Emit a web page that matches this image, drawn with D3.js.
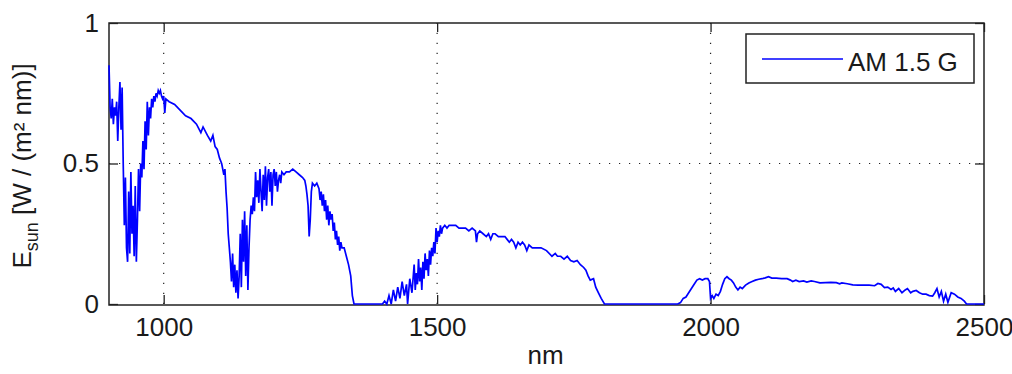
<!DOCTYPE html>
<html lang="en">
<head>
    <meta charset="utf-8">
    <title>AM 1.5 G spectrum</title>
    <style>
        body { margin: 0; background: #fff; }
        svg text { font-family: "Liberation Sans", Arial, Helvetica, sans-serif; fill: #1a1a1a; }
    </style>
</head>
<body>
    <svg class="chart"></svg>

    <script src="https://d3js.org/d3.v7.min.js"></script>
    <script>
        // Wavelength (nm) and irradiance (W / (m^2 nm))
        var wavelength = [
            900, 902, 904, 906, 908, 910, 912, 914, 916, 918, 920, 922, 924, 926, 928, 930, 932, 934, 936, 938,
            940, 942, 944, 946, 948, 950, 952, 954, 956, 958, 960, 962, 964, 966, 968, 970, 972, 974, 976, 978,
            980, 982, 984, 986, 988, 990, 992, 994, 996, 998, 1000, 1002, 1004, 1010, 1020, 1030, 1040, 1050, 1060, 1068,
            1072, 1080, 1086, 1090, 1094, 1098, 1102, 1106, 1110, 1112, 1114, 1116, 1118, 1120, 1122, 1124, 1126, 1128, 1130, 1132,
            1134, 1136, 1138, 1140, 1142, 1144, 1146, 1148, 1150, 1152, 1154, 1156, 1158, 1160, 1162, 1164, 1166, 1168, 1170, 1172,
            1174, 1176, 1178, 1180, 1182, 1184, 1186, 1188, 1190, 1192, 1194, 1196, 1198, 1200, 1202, 1204, 1206, 1208, 1210, 1212,
            1214, 1216, 1220, 1224, 1230, 1236, 1242, 1248, 1254, 1258, 1260, 1262, 1264, 1266, 1268, 1270, 1272, 1276, 1280, 1284,
            1286, 1288, 1290, 1292, 1294, 1296, 1298, 1300, 1302, 1304, 1306, 1308, 1310, 1312, 1314, 1316, 1318, 1320, 1322, 1324,
            1326, 1330, 1334, 1338, 1342, 1345, 1348, 1400, 1404, 1408, 1412, 1416, 1420, 1424, 1428, 1432, 1436, 1440, 1444, 1446,
            1450, 1454, 1458, 1460, 1462, 1464, 1466, 1468, 1470, 1472, 1474, 1476, 1478, 1480, 1482, 1484, 1486, 1488, 1490, 1492,
            1494, 1496, 1498, 1500, 1502, 1504, 1506, 1508, 1510, 1514, 1518, 1522, 1528, 1534, 1540, 1546, 1552, 1558, 1564, 1570,
            1572, 1574, 1578, 1584, 1590, 1594, 1598, 1602, 1606, 1612, 1618, 1624, 1628, 1632, 1636, 1640, 1644, 1648, 1652, 1656,
            1660, 1664, 1668, 1674, 1680, 1690, 1700, 1710, 1716, 1720, 1726, 1732, 1738, 1744, 1750, 1756, 1762, 1768, 1772, 1776,
            1780, 1786, 1790, 1795, 1800, 1806, 1940, 1945, 1950, 1955, 1960, 1965, 1970, 1975, 1980, 1985, 1990, 1995, 1998, 2000,
            2003, 2006, 2010, 2014, 2018, 2022, 2026, 2030, 2034, 2038, 2042, 2046, 2050, 2054, 2058, 2064, 2070, 2076, 2082, 2088,
            2094, 2100, 2106, 2112, 2120, 2130, 2140, 2146, 2150, 2156, 2162, 2170, 2176, 2184, 2190, 2200, 2210, 2220, 2230, 2236,
            2240, 2250, 2260, 2270, 2280, 2290, 2300, 2306, 2312, 2318, 2324, 2330, 2334, 2338, 2344, 2350, 2356, 2360, 2366, 2370,
            2376, 2382, 2388, 2394, 2400, 2406, 2410, 2414, 2418, 2422, 2426, 2430, 2434, 2440, 2446, 2452, 2458, 2464, 2468, 2500
        ];
        var irradiance = [
            0.85, 0.70, 0.66, 0.73, 0.64, 0.70, 0.67, 0.72, 0.58, 0.70, 0.79, 0.62, 0.77, 0.50, 0.28, 0.45, 0.20, 0.15, 0.40, 0.18,
            0.47, 0.25, 0.35, 0.17, 0.42, 0.15, 0.30, 0.48, 0.33, 0.50, 0.45, 0.58, 0.48, 0.65, 0.55, 0.72, 0.60, 0.70, 0.66, 0.73,
            0.70, 0.74, 0.72, 0.75, 0.74, 0.76, 0.75, 0.76, 0.74, 0.73, 0.74, 0.68, 0.73, 0.72, 0.71, 0.69, 0.67, 0.66, 0.64, 0.61,
            0.63, 0.60, 0.58, 0.60, 0.56, 0.55, 0.52, 0.50, 0.46, 0.48, 0.40, 0.34, 0.25, 0.20, 0.15, 0.08, 0.18, 0.06, 0.14, 0.04,
            0.12, 0.02, 0.10, 0.25, 0.06, 0.30, 0.15, 0.33, 0.10, 0.28, 0.05, 0.20, 0.30, 0.35, 0.32, 0.38, 0.33, 0.47, 0.38, 0.44,
            0.36, 0.48, 0.40, 0.33, 0.46, 0.37, 0.49, 0.35, 0.45, 0.48, 0.40, 0.47, 0.35, 0.46, 0.48, 0.42, 0.47, 0.40, 0.44, 0.46,
            0.43, 0.47, 0.46, 0.47, 0.47, 0.48, 0.47, 0.46, 0.45, 0.44, 0.42, 0.39, 0.35, 0.24, 0.30, 0.40, 0.43, 0.42, 0.43, 0.41,
            0.37, 0.40, 0.35, 0.39, 0.33, 0.37, 0.30, 0.35, 0.28, 0.33, 0.30, 0.32, 0.26, 0.29, 0.23, 0.26, 0.21, 0.24, 0.19, 0.22,
            0.20, 0.20, 0.17, 0.14, 0.10, 0.03, 0.00, 0.00, 0.01, 0.00, 0.03, 0.00, 0.05, 0.01, 0.06, 0.02, 0.08, 0.03, 0.07, 0.00,
            0.09, 0.04, 0.14, 0.05, 0.11, 0.07, 0.16, 0.08, 0.13, 0.05, 0.15, 0.09, 0.18, 0.12, 0.16, 0.10, 0.19, 0.14, 0.20, 0.17,
            0.22, 0.18, 0.27, 0.22, 0.26, 0.24, 0.28, 0.25, 0.27, 0.28, 0.27, 0.28, 0.28, 0.28, 0.27, 0.27, 0.27, 0.26, 0.27, 0.26,
            0.22, 0.25, 0.26, 0.25, 0.24, 0.25, 0.23, 0.25, 0.25, 0.24, 0.24, 0.24, 0.23, 0.22, 0.23, 0.22, 0.20, 0.22, 0.21, 0.22,
            0.21, 0.19, 0.21, 0.20, 0.20, 0.20, 0.19, 0.17, 0.18, 0.17, 0.17, 0.16, 0.17, 0.155, 0.15, 0.155, 0.14, 0.13, 0.12, 0.10,
            0.085, 0.09, 0.06, 0.04, 0.02, 0.00, 0.00, 0.005, 0.02, 0.025, 0.04, 0.055, 0.07, 0.085, 0.09, 0.085, 0.09, 0.09, 0.08, 0.02,
            0.03, 0.02, 0.035, 0.03, 0.045, 0.07, 0.09, 0.097, 0.09, 0.085, 0.075, 0.06, 0.05, 0.06, 0.055, 0.067, 0.075, 0.08, 0.085, 0.088,
            0.09, 0.093, 0.097, 0.092, 0.092, 0.09, 0.09, 0.085, 0.08, 0.085, 0.08, 0.082, 0.078, 0.082, 0.08, 0.075, 0.076, 0.077, 0.076, 0.072,
            0.075, 0.072, 0.068, 0.067, 0.067, 0.067, 0.065, 0.073, 0.07, 0.058, 0.06, 0.052, 0.057, 0.045, 0.055, 0.04, 0.05, 0.055, 0.04, 0.045,
            0.048, 0.04, 0.035, 0.035, 0.03, 0.028, 0.04, 0.055, 0.025, 0.045, 0.01, 0.035, 0.006, 0.04, 0.035, 0.025, 0.02, 0.01, 0.00, 0.00
        ];

        var xTicks = [1000, 1500, 2000, 2500];
        var xGrid = [1000, 1500, 2000];
        var yTicks = [0, 0.5, 1];
        var yGrid = [0.5];
        var seriesName = "AM 1.5 G";

        var width = 1012,
            height = 374;
        var plotLeft = 109, plotRight = 984, plotTop = 23, plotBottom = 304;

        var x = d3.scaleLinear().domain([900, 2500]).range([plotLeft, plotRight]);
        var y = d3.scaleLinear().domain([0, 1]).range([plotBottom, plotTop]);

        var svg = d3.select(".chart")
            .attr("width", width)
            .attr("height", height);

        svg.append("rect")
            .attr("width", width)
            .attr("height", height)
            .attr("fill", "#fff");

        // dotted grid
        svg.append("g").selectAll("line")
            .data(xGrid)
            .enter().append("line")
            .attr("x1", function(d) { return x(d); })
            .attr("x2", function(d) { return x(d); })
            .attr("y1", plotBottom)
            .attr("y2", plotTop)
            .attr("stroke", "#222")
            .attr("stroke-width", 1.2)
            .attr("stroke-dasharray", "1.2,8.8");

        svg.append("g").selectAll("line")
            .data(yGrid)
            .enter().append("line")
            .attr("x1", plotLeft)
            .attr("x2", plotRight)
            .attr("y1", function(d) { return y(d); })
            .attr("y2", function(d) { return y(d); })
            .attr("stroke", "#222")
            .attr("stroke-width", 1.2)
            .attr("stroke-dasharray", "1.2,8.8");

        var data = wavelength.map(function(w, i) { return { nm: w, e: irradiance[i] }; });

        var line = d3.line()
            .x(function(d) { return x(d.nm); })
            .y(function(d) { return y(d.e); });

        // axes, ticks pointing inward like matlab
        svg.append("g")
            .attr("transform", "translate(0," + plotBottom + ")")
            .call(d3.axisBottom(x).tickValues(xTicks).tickSize(-9).tickPadding(14).tickFormat(d3.format("d")));
        svg.append("g")
            .attr("transform", "translate(0," + plotTop + ")")
            .call(d3.axisTop(x).tickValues(xTicks).tickSize(-9).tickFormat(""));
        svg.append("g")
            .attr("transform", "translate(" + plotLeft + ",0)")
            .call(d3.axisLeft(y).tickValues(yTicks).tickSize(-9).tickPadding(10).tickFormat(d3.format("")));
        svg.append("g")
            .attr("transform", "translate(" + plotRight + ",0)")
            .call(d3.axisRight(y).tickValues(yTicks).tickSize(-9).tickFormat(""));

        svg.selectAll(".domain").remove();
        svg.selectAll(".tick line").attr("stroke", "#222").attr("stroke-width", 1.3);
        svg.selectAll(".tick text")
            .attr("font-size", 26)
            .attr("fill", "#1a1a1a");

        // box
        svg.append("rect")
            .attr("x", plotLeft)
            .attr("y", plotTop)
            .attr("width", plotRight - plotLeft)
            .attr("height", plotBottom - plotTop + 1)
            .attr("fill", "none")
            .attr("stroke", "#222")
            .attr("stroke-width", 1.5);

        svg.append("path")
            .datum(data)
            .attr("fill", "none")
            .attr("stroke", "#0000ff")
            .attr("stroke-width", 1.7)
            .attr("d", line);

        // labels
        svg.append("text")
            .attr("x", (plotLeft + plotRight) / 2 - 1)
            .attr("y", 364)
            .attr("text-anchor", "middle")
            .attr("font-size", 26)
            .text("nm");

        var yLabel = svg.append("text")
            .attr("transform", "translate(31,166) rotate(-90)")
            .attr("text-anchor", "middle")
            .attr("font-size", 26);
        yLabel.append("tspan").text("E");
        yLabel.append("tspan").attr("font-size", 18).attr("dy", 7).text("sun");
        yLabel.append("tspan").attr("dy", -7).text(" [W / (m\u00b2 nm)]");

        // legend
        var legend = svg.append("g");
        legend.append("rect")
            .attr("x", 746)
            .attr("y", 34)
            .attr("width", 228)
            .attr("height", 49)
            .attr("fill", "#fff")
            .attr("stroke", "#222")
            .attr("stroke-width", 1.5);
        legend.append("line")
            .attr("x1", 762)
            .attr("x2", 843)
            .attr("y1", 59)
            .attr("y2", 59)
            .attr("stroke", "#0000ff")
            .attr("stroke-width", 1.5);
        legend.append("text")
            .attr("x", 848)
            .attr("y", 71)
            .attr("font-size", 26)
            .text(seriesName);
    </script>
</body>
</html>
